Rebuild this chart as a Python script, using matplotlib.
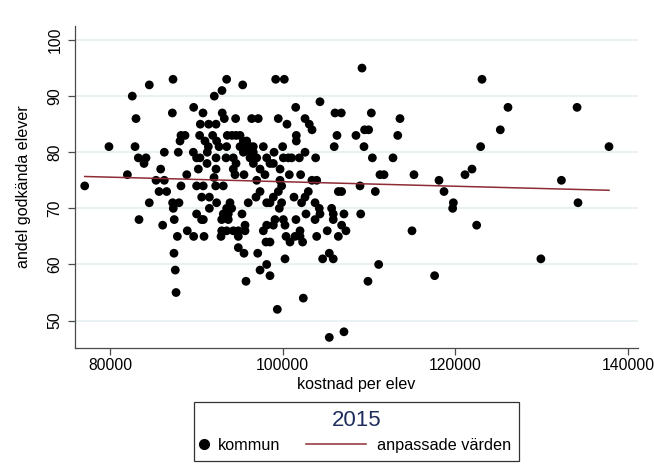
import numpy as np
import matplotlib
matplotlib.use("Agg")
import matplotlib.pyplot as plt
from matplotlib.lines import Line2D
from matplotlib.legend_handler import HandlerLine2D

plt.rcParams['font.family'] = ['Liberation Sans', 'DejaVu Sans']

# Cost per pupil (SEK) and share of pupils passing (%) per municipality, 2015
kostnad = [
    77070, 79880, 82580, 84550, 87300, 83010, 82900, 87220, 89690, 90770,
    92080, 92970, 93510, 93000, 93240, 90460, 91430, 92280, 88220, 88690,
    88110, 90380, 91000, 91890, 92350, 93580, 92630, 93510, 91390, 84170,
    83280, 83940, 86290, 87910, 89650, 90030, 90420, 91270, 92280, 93440,
    91240, 90230, 92280, 85870, 82010, 88890, 92050, 85330, 86290, 88220,
    90030, 90800, 92240, 93120, 85680, 86560, 90620, 91510, 92350, 84550,
    87250, 87990, 87330, 91510, 83360, 86100, 87440, 90030, 90610, 90810,
    93120, 92940, 93510, 88950, 87800, 89690, 90890, 92940, 92860, 93510,
    87410, 87560, 87650, 109190, 95370, 99190, 100190, 104320, 101510, 106060,
    106790, 110270, 94550, 96410, 97170, 99490, 100500, 102590, 103080, 103400,
    101580, 101580, 106290, 105970, 108490, 109490, 109960, 109420, 110390, 94130,
    94600, 95060, 95450, 95830, 95060, 95640, 96220, 96600, 95450, 96220,
    96600, 97760, 100000, 99000, 94280, 94600, 96220, 96600, 96990, 98150,
    98530, 98920, 100080, 100660, 101040, 101930, 102590, 103820, 99700, 97380,
    97950, 95520, 94280, 94480, 100770, 102080, 103390, 103940, 96990, 99690,
    108960, 106450, 106830, 110730, 96910, 97380, 98920, 99500, 99880, 101310,
    102190, 102590, 102970, 93900, 94090, 96010, 98150, 98530, 99880, 99610,
    103750, 104240, 104320, 105670, 105860, 105860, 107100, 109040, 102700, 95290,
    93700, 93700, 99110, 100080, 101540, 103750, 98150, 95640, 98920, 100270,
    106830, 94280, 94860, 95640, 97760, 102010, 105160, 107330, 94860, 100390,
    100850, 101430, 102310, 102010, 103940, 106450, 98070, 98530, 94860, 95520,
    97110, 100270, 104630, 105400, 105860, 98150, 97380, 98530, 95750, 109880,
    111120, 102390, 99380, 105400, 107100, 123090, 126100, 134100, 113590, 113330,
    125210, 122930, 137800, 112780, 111270, 111740, 115210, 118110, 121120, 121930,
    132290, 118690, 119770, 119690, 134210, 114980, 122470, 117600, 129910,
]
godkanda = [
    74, 81, 90, 92, 93, 86, 81, 87, 88, 87,
    90, 91, 93, 87, 86, 85, 85, 85, 83, 83,
    82, 83, 82, 83, 82, 83, 81, 81, 81, 79,
    79, 78, 80, 80, 80, 79, 79, 80, 79, 79,
    78, 77, 77, 77, 76, 76, 75.5, 75, 75, 74,
    74, 74, 74, 74, 73, 73, 72, 72, 71, 71,
    71, 71, 70, 70, 68, 67, 68, 69, 68, 68,
    69, 68, 70, 66, 65, 65, 65, 66, 65, 66,
    62, 59, 55, 95, 92, 93, 93, 89, 88, 87,
    87, 87, 86, 86, 86, 86, 85, 86, 85, 84,
    83, 82, 83, 81, 83, 84, 84, 81, 79, 83,
    83, 83, 82, 82, 81, 81, 81, 81, 80, 80,
    80, 81, 81, 80, 79, 78, 79, 78, 79, 79,
    78, 78, 79, 79, 79, 79, 80, 79, 77, 77,
    76, 76, 77, 76, 76, 76, 75, 75, 75, 75,
    74, 73, 73, 73, 72, 73, 72, 73, 74, 72,
    71, 72, 73, 71, 70, 71, 71, 71, 71, 70,
    71, 70, 69, 70, 69, 68, 69, 69, 69, 69,
    69, 68, 68, 68, 68, 68, 67, 67, 67, 67,
    67, 66, 66, 66, 66, 66, 66, 66, 65, 65,
    64, 65, 64, 65, 65, 65, 64, 64, 63, 62,
    62, 61, 61, 62, 61, 60, 59, 58, 57, 57,
    60, 54, 52, 47, 48, 93, 88, 88, 86, 83,
    84, 81, 81, 79, 76, 76, 76, 75, 76, 77,
    75, 73, 71, 70, 71, 66, 67, 58, 61,
]
x_ticks = [80000, 100000, 120000, 140000]
y_ticks = [50, 60, 70, 80, 90, 100]

x = np.array(kostnad, dtype=float)
y = np.array(godkanda, dtype=float)

# Linear fit (anpassade värden)
slope, intercept = np.polyfit(x, y, 1)
x_fit = np.array([x.min(), x.max()])
y_fit = intercept + slope * x_fit


class LongLineHandler(HandlerLine2D):
    """Line handle that reaches further left than the handle box."""

    def __init__(self, extend, **kw):
        super().__init__(**kw)
        self._extend = extend

    def get_xdata(self, legend, xdescent, ydescent, width, height, fontsize):
        xdata = np.array([-xdescent - self._extend * fontsize, -xdescent + width])
        return xdata, xdata


W, H = 654, 472
fig = plt.figure(figsize=(W / 100, H / 100), dpi=100)
fig.patch.set_facecolor('white')
ax = fig.add_axes([74.7 / W, 1 - 347.5 / H, (638 - 74.7) / W, (347.5 - 26) / H])

line_col = '#8E2B35'
spine_col = '#4a4a4a'
ax.scatter(x, y, s=40, color='black', edgecolors='none', zorder=3)
ax.plot(x_fit, y_fit, color=line_col, lw=1.1, zorder=4)

ax.set_xlim(75910, 141160)
ax.set_ylim(45.2, 102.5)
ax.set_xticks(x_ticks)
ax.set_yticks(y_ticks)
ax.set_xticklabels([str(t) for t in x_ticks])
ax.set_yticklabels([str(t) for t in y_ticks], rotation=90, va='center')
ax.yaxis.grid(True, color='#E6EFF1', lw=1.2, zorder=0)
ax.set_axisbelow(True)

for s in ('top', 'right'):
    ax.spines[s].set_visible(False)
for s in ('left', 'bottom'):
    ax.spines[s].set_color(spine_col)
    ax.spines[s].set_linewidth(0.9)
ax.tick_params(axis='both', colors=spine_col, length=4.8, width=0.9,
               labelsize=11.3, labelcolor='black')
ax.tick_params(axis='x', pad=3)
ax.tick_params(axis='y', pad=4)

ax.set_xlabel('kostnad per elev', fontsize=11.6, labelpad=3)
ax.set_ylabel('andel godkända elever', fontsize=11.6, labelpad=12)

h_pt = Line2D([], [], ls='none', marker='o', ms=7, color='black')
h_ln = Line2D([], [], color=line_col, lw=1.1)
leg = fig.legend([h_pt, h_ln], ['kommun', 'anpassade värden'],
                 loc='center', bbox_to_anchor=(356.5 / W, 1 - 431.5 / H),
                 ncol=2, title='2015', fontsize=11.7, title_fontsize=16,
                 frameon=True, fancybox=False, edgecolor='black',
                 handlelength=0.28, handletextpad=0.66, columnspacing=5.03,
                 borderpad=0.47, labelspacing=0.45,
                 handler_map={h_pt: HandlerLine2D(numpoints=1),
                              h_ln: LongLineHandler(3.43)})
leg.get_frame().set_linewidth(0.9)
leg.get_title().set_color('#1F2D5C')

fig.savefig('out.png', dpi=100, facecolor='white')
